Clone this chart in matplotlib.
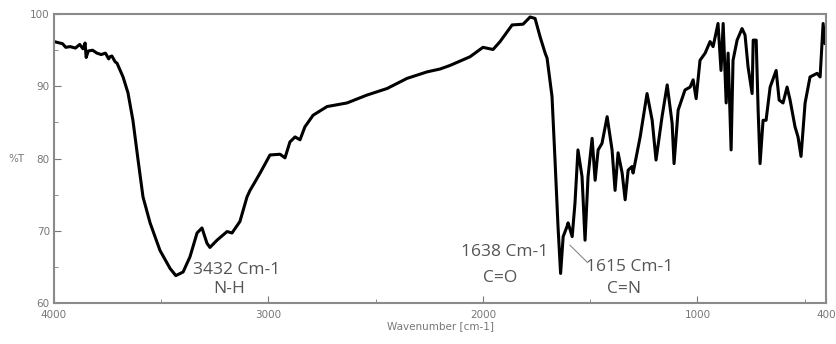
import matplotlib
matplotlib.use('Agg')
import matplotlib.pyplot as plt
from matplotlib.ticker import MultipleLocator, FixedLocator

# FTIR spectrum (wavenumber in cm-1, transmittance in %T)
wavenumber = [4000, 3960, 3945, 3925, 3900, 3880, 3865, 3855, 3850, 3840, 3820,
              3800, 3780, 3760, 3745, 3739, 3730, 3715, 3706, 3678, 3655, 3632,
              3608, 3585, 3552, 3506, 3459, 3432, 3398, 3366, 3333, 3310, 3287,
              3273, 3240, 3193, 3170, 3133, 3100, 3086, 3072, 3039, 2993, 2946,
              2923, 2900, 2876, 2853, 2830, 2792, 2727, 2634, 2540, 2447, 2354,
              2261, 2200, 2153, 2060, 2000, 1953, 1920, 1864, 1813, 1780, 1757,
              1734, 1710, 1701, 1678, 1664, 1650, 1638, 1626, 1608, 1603, 1584,
              1571, 1557, 1538, 1524, 1510, 1491, 1477, 1463, 1445, 1421, 1398,
              1384, 1370, 1351, 1337, 1323, 1305, 1300, 1267, 1235, 1211, 1193,
              1165, 1141, 1118, 1109, 1090, 1058, 1034, 1020, 1006, 988, 964,
              941, 927, 904, 890, 880, 866, 857, 843, 834, 815, 792, 778, 764,
              745, 740, 726, 717, 708, 694, 680, 661, 633, 619, 601, 582, 568,
              545, 531, 517, 498, 475, 442, 428, 414, 405, 400]
transmittance = [96.2, 95.9, 95.4, 95.5, 95.3, 95.8, 95.2, 96.0, 94.0, 94.9, 95.0,
                 94.6, 94.4, 94.6, 93.8, 94.1, 94.2, 93.4, 93.2, 91.3, 89.1, 85.3,
                 79.8, 74.7, 71.1, 67.3, 64.8, 63.8, 64.3, 66.4, 69.7, 70.4, 68.3,
                 67.7, 68.7, 69.9, 69.7, 71.3, 74.7, 75.6, 76.3, 78.0, 80.5, 80.6,
                 80.1, 82.3, 83.0, 82.6, 84.4, 86.0, 87.2, 87.7, 88.8, 89.7, 91.1,
                 92.0, 92.4, 92.9, 94.1, 95.4, 95.1, 96.2, 98.5, 98.6, 99.6, 99.4,
                 96.9, 94.6, 93.9, 88.6, 79.8, 70.6, 64.1, 69.2, 70.6, 71.1, 69.2,
                 73.8, 81.2, 77.5, 68.7, 77.5, 82.8, 77.0, 81.2, 82.1, 85.8, 81.2,
                 75.6, 80.8, 78.0, 74.3, 78.4, 78.9, 78.0, 83.0, 89.0, 85.3, 79.8,
                 85.8, 90.2, 84.9, 79.3, 86.7, 89.5, 89.9, 90.9, 88.3, 93.6, 94.6,
                 96.2, 95.5, 98.7, 92.2, 98.7, 87.7, 94.6, 81.2, 93.6, 96.4, 98.0,
                 97.1, 92.7, 89.0, 96.4, 96.4, 86.7, 79.3, 85.3, 85.3, 89.9, 92.2,
                 88.1, 87.7, 89.9, 88.1, 84.4, 83.0, 80.3, 87.7, 91.3, 91.8, 91.3,
                 98.7, 95.9, 96.0]

x_ticks = [4000, 3000, 2000, 1000, 400]
y_ticks = [60, 70, 80, 90, 100]

label_col = '#555555'
tick_col = '#777777'

fig = plt.figure(figsize=(8.37, 3.44), dpi=100)
ax = fig.add_axes([0.0645, 0.119, 0.9225, 0.840])

ax.plot(wavenumber, transmittance, color='black', lw=2.2)

ax.set_xlim(4000, 400)
ax.set_ylim(60, 100)
ax.xaxis.set_major_locator(FixedLocator(x_ticks))
ax.xaxis.set_minor_locator(FixedLocator([3500, 2500, 1500, 500]))
ax.yaxis.set_major_locator(FixedLocator(y_ticks))
ax.yaxis.set_minor_locator(MultipleLocator(5))
ax.tick_params(which='both', direction='in', color=tick_col, labelcolor=tick_col,
               labelsize=7.5)
ax.tick_params(axis='x', pad=5)
ax.tick_params(axis='y', pad=3)
ax.tick_params(which='major', length=5)
ax.tick_params(which='minor', length=3)
for s in ax.spines.values():
    s.set_color('#8a8a8a')
    s.set_linewidth(1.5)

ax.set_xlabel('Wavenumber [cm-1]', fontsize=7.5, color=tick_col, labelpad=1)
ax.set_ylabel('%T', fontsize=7.5, color=tick_col, rotation=0, labelpad=10, va='center')

# band labels
txt = dict(fontsize=12.5, color=label_col, family='Open Sans', ha='center', va='center')
ax.text(3150, 64.6, '3432 Cm-1', **txt)
ax.text(3185, 61.9, 'N-H', **txt)
ax.text(1897, 67.1, '1638 Cm-1', **txt)
ax.text(1920, 63.5, 'C=O', **txt)
ax.text(1314, 65.0, '1615 Cm-1', **txt)
ax.text(1342, 61.9, 'C=N', **txt)
ax.plot([1594, 1512], [68.0, 65.6], color='#888888', lw=0.8)

fig.savefig('out.png', dpi=100)
